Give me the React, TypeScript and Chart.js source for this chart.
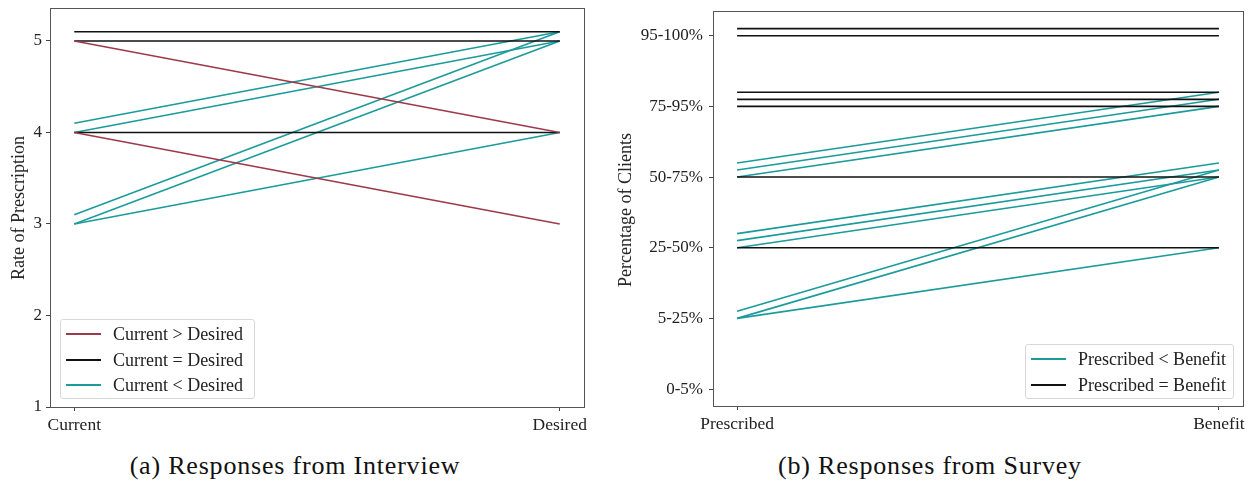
import React, { useEffect, useRef } from "react";
import { Chart, registerables } from "chart.js";

Chart.register(...registerables);

// ---------- data ----------
const interviewCategories = ["Current", "Desired"];
const interviewTicks = [1, 2, 3, 4, 5];
const interviewDecrease = [
  [5, 4],
  [4, 3],
];
const interviewSame = [
  [5.1, 5.1],
  [5, 5],
  [4, 4],
];
const interviewIncrease = [
  [4.1, 5.1],
  [4, 5],
  [3.1, 5.1],
  [3, 5],
  [3, 4],
];

const surveyCategories = ["Prescribed", "Benefit"];
const surveyTicks = ["0-5%", "5-25%", "25-50%", "50-75%", "75-95%", "95-100%"];
const surveySame = [
  [5.1, 5.1],
  [5, 5],
  [4.2, 4.2],
  [4.1, 4.1],
  [4, 4],
  [3, 3],
  [2, 2],
];
const surveyIncrease = [
  [3.2, 4.2],
  [3.1, 4.1],
  [3, 4],
  [2.2, 3.2],
  [2.1, 3.1],
  [2, 3],
  [1.1, 3.1],
  [1, 3],
  [1, 2],
];

const RED = "#9c3a4a";
const BLACK = "#111111";
const TEAL = "#1b9b9b";
const FONT = "'Liberation Serif', 'DejaVu Serif', serif";

function toDatasets(rows: number[][], color: string) {
  return rows.map((r) => ({
    data: r.map((v, i) => ({ x: i, y: v })),
    borderColor: color,
    backgroundColor: color,
    borderWidth: 1.6,
    pointRadius: 0,
    tension: 0,
    fill: false,
  }));
}

const boxPlugin = {
  id: "boxPlugin",
  afterDraw(chart: any) {
    const { ctx, chartArea } = chart;
    ctx.save();
    ctx.strokeStyle = "#555";
    ctx.lineWidth = 1;
    ctx.strokeRect(
      Math.round(chartArea.left) + 0.5,
      Math.round(chartArea.top) + 0.5,
      Math.round(chartArea.right - chartArea.left),
      Math.round(chartArea.bottom - chartArea.top)
    );
    ctx.restore();
  },
};

function makeOptions(
  cats: string[],
  yTickValues: number[],
  yLabel: (v: number) => string,
  yMin: number,
  yMax: number,
  yWidth: number,
  xHeight: number,
  padding: any,
  yPad: number
) {
  return {
    animation: false,
    responsive: false,
    maintainAspectRatio: false,
    layout: { padding },
    plugins: { legend: { display: false }, tooltip: { enabled: false } },
    scales: {
      x: {
        type: "linear",
        min: -0.05,
        max: 1.05,
        afterBuildTicks: (s: any) => {
          s.ticks = cats.map((_, i) => ({ value: i }));
        },
        afterFit: (s: any) => {
          s.height = xHeight;
          s.paddingLeft = 0;
          s.paddingRight = 0;
        },
        ticks: {
          callback: (v: any) => cats[v] ?? "",
          font: { family: FONT, size: 17.5 },
          color: "#222",
          padding: 4,
          maxRotation: 0,
          autoSkip: false,
        },
        grid: {
          drawOnChartArea: false,
          drawTicks: true,
          tickLength: 4,
          color: "#444",
        },
        border: { display: true, color: "#555" },
      },
      y: {
        type: "linear",
        min: yMin,
        max: yMax,
        afterBuildTicks: (s: any) => {
          s.ticks = yTickValues.map((v) => ({ value: v }));
        },
        afterFit: (s: any) => {
          s.width = yWidth;
          s.paddingTop = 0;
          s.paddingBottom = 0;
        },
        ticks: {
          callback: (v: any) => yLabel(v),
          font: { family: FONT, size: 17 },
          color: "#222",
          padding: yPad,
          autoSkip: false,
        },
        grid: {
          drawOnChartArea: false,
          drawTicks: true,
          tickLength: 4,
          color: "#444",
        },
        border: { display: true, color: "#555" },
      },
    },
  };
}

function LineChart(props: {
  datasets: any[];
  options: any;
  width: number;
  height: number;
}) {
  const ref = useRef<HTMLCanvasElement | null>(null);
  useEffect(() => {
    if (!ref.current) return;
    const chart = new Chart(ref.current, {
      type: "line",
      data: { datasets: props.datasets },
      options: props.options,
      plugins: [boxPlugin],
    } as any);
    return () => chart.destroy();
  }, []);
  return (
    <canvas
      ref={ref}
      width={props.width}
      height={props.height}
      style={{ width: props.width, height: props.height, display: "block" }}
    />
  );
}

const textStyle: React.CSSProperties = {
  position: "absolute",
  fontFamily: FONT,
  color: "#222",
  whiteSpace: "nowrap",
};

function Legend(props: {
  left: number;
  top: number;
  width: number;
  height: number;
  items: { label: string; color: string }[];
  rowTop: number;
  rowGap: number;
}) {
  return (
    <div
      style={{
        position: "absolute",
        left: props.left,
        top: props.top,
        width: props.width,
        height: props.height,
        border: "1px solid #d8d8d8",
        borderRadius: 3,
        background: "rgba(255,255,255,0.85)",
        boxSizing: "border-box",
      }}
    >
      {props.items.map((it, i) => (
        <div
          key={i}
          style={{
            position: "absolute",
            left: 0,
            top: props.rowTop + i * props.rowGap - 12,
            height: 24,
            width: "100%",
          }}
        >
          <div
            style={{
              position: "absolute",
              left: 5,
              top: 11,
              width: 35,
              height: 2,
              background: it.color,
            }}
          />
          <div
            style={{
              ...textStyle,
              left: 52,
              top: 0,
              fontSize: 18,
              lineHeight: "24px",
            }}
          >
            {it.label}
          </div>
        </div>
      ))}
    </div>
  );
}

export default function App() {
  const leftDatasets = [
    ...toDatasets(interviewDecrease, RED),
    ...toDatasets(interviewSame, BLACK),
    ...toDatasets(interviewIncrease, TEAL),
  ];
  const rightDatasets = [
    ...toDatasets(surveySame, BLACK),
    ...toDatasets(surveyIncrease, TEAL),
  ];

  const leftOptions = makeOptions(
    interviewCategories,
    interviewTicks,
    (v) => String(v),
    1,
    5.36,
    50,
    33,
    { left: 0, top: 8, right: 16, bottom: 0 },
    4
  );
  const rightOptions = makeOptions(
    surveyCategories,
    surveyTicks.map((_, i) => i),
    (v) => surveyTicks[v] ?? "",
    -0.24,
    5.35,
    113,
    34,
    { left: 0, top: 11, right: 10, bottom: 0 },
    6
  );

  const captionStyle: React.CSSProperties = {
    ...textStyle,
    top: 466,
    fontSize: 26,
    letterSpacing: "0.8px",
    lineHeight: "30px",
    transform: "translate(-50%, -50%)",
    color: "#111",
  };

  return (
    <div
      style={{
        position: "absolute",
        left: 0,
        top: 0,
        width: 1253,
        height: 489,
        background: "#fff",
        overflow: "hidden",
      }}
    >
      <div style={{ position: "absolute", left: 0, top: 0 }}>
        <LineChart datasets={leftDatasets} options={leftOptions} width={600} height={440} />
      </div>
      <div style={{ position: "absolute", left: 600, top: 0 }}>
        <LineChart datasets={rightDatasets} options={rightOptions} width={653} height={440} />
      </div>

      {/* axis titles */}
      <div
        style={{
          ...textStyle,
          left: 18,
          top: 208,
          fontSize: 18,
          lineHeight: "20px",
          transform: "translate(-50%, -50%) rotate(-90deg)",
        }}
      >
        Rate of Prescription
      </div>
      <div
        style={{
          ...textStyle,
          left: 625,
          top: 210,
          fontSize: 18,
          lineHeight: "20px",
          transform: "translate(-50%, -50%) rotate(-90deg)",
        }}
      >
        Percentage of Clients
      </div>

      {/* legends */}
      <Legend
        left={60}
        top={319}
        width={195}
        height={80}
        rowTop={14}
        rowGap={25.5}
        items={[
          { label: "Current > Desired", color: RED },
          { label: "Current = Desired", color: BLACK },
          { label: "Current < Desired", color: TEAL },
        ]}
      />
      <Legend
        left={1025}
        top={344}
        width={209}
        height={55}
        rowTop={14}
        rowGap={25.5}
        items={[
          { label: "Prescribed < Benefit", color: TEAL },
          { label: "Prescribed = Benefit", color: BLACK },
        ]}
      />

      {/* captions */}
      <div style={{ ...captionStyle, left: 295 }}>(a) Responses from Interview</div>
      <div style={{ ...captionStyle, left: 930 }}>(b) Responses from Survey</div>
    </div>
  );
}
